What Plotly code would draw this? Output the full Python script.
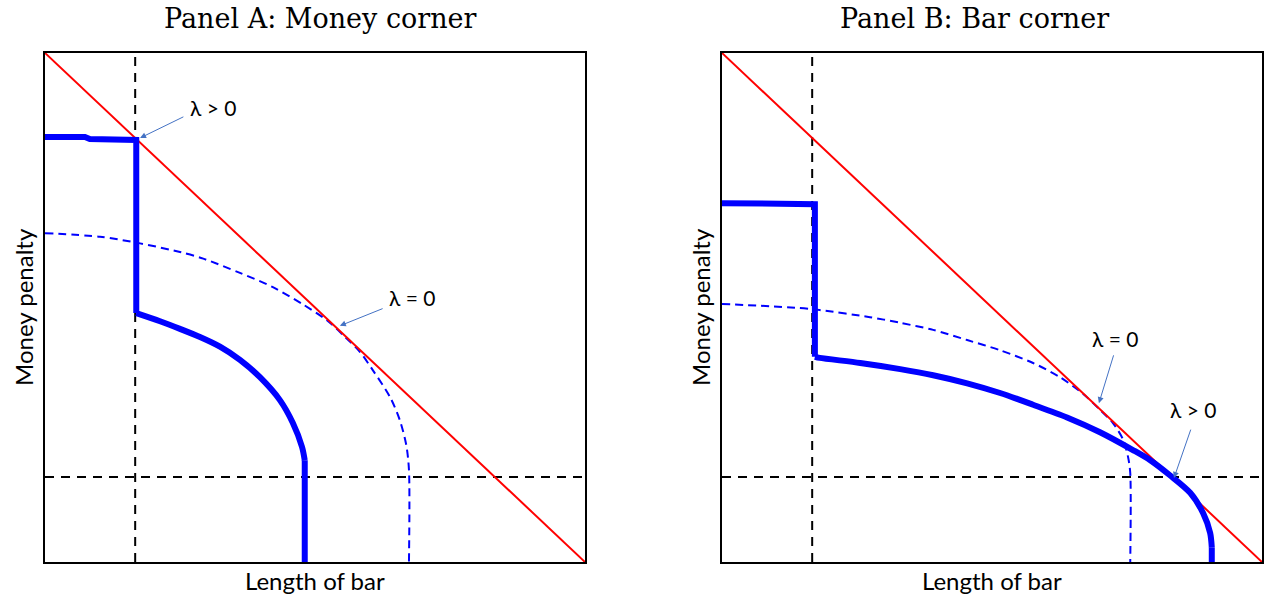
import plotly.graph_objects as go

W, H = 1271, 597

# ---------- data (axes 0..100) ----------
budget_x = [0, 100]
budget_y = [100, 0]
ref_level = 16.7  # dashed reference lines (x and y)

# Panel A: Money corner  (first 4 points: flat part + kink; rest: drop and curve)
a_solid_x = [0, 7.4, 8.3, 16.9, 16.9, 21.3, 25.0, 28.7, 32.4, 36.1, 39.8, 43.5, 45.9, 47.6, 48.1, 48.1]
a_solid_y = [83.5, 83.5, 83.1, 82.9, 48.9, 47.3, 45.8, 44.2, 42.3, 39.7, 36.3, 31.8, 27.3, 22.6, 20.0, 0]
a_dash_x = [0, 10.2, 17.6, 25.0, 29.3, 36.1, 42.2, 47.8, 52.2, 55.2, 58.3, 60.7, 63.9, 65.7, 66.9, 67.4, 67.4]
a_dash_y = [64.6, 63.9, 62.6, 60.9, 59.6, 56.8, 54.0, 50.6, 47.5, 44.6, 41.3, 37.7, 32.4, 27.9, 23.0, 18.1, 0]

# Panel B: Bar corner
b_solid_x = [0, 10.7, 11.7, 17.2, 17.2, 18.1, 25.6, 33.0, 39.1, 45.4, 51.5, 57.6, 63.9, 70.0, 76.1, 79.3,
             83.0, 86.7, 89.1, 90.4, 90.7, 90.7]
b_solid_y = [70.5, 70.5, 70.3, 70.3, 40.3, 40.1, 39.1, 37.9, 36.7, 35.1, 33.2, 30.9, 28.4, 25.5, 22.0, 20.0,
             17.0, 13.6, 9.6, 5.7, 2.9, 0]
b_dash_x = [0, 14.4, 18.1, 27.4, 33.0, 39.1, 45.4, 51.5, 57.6, 62.6, 66.9, 70.0, 72.4, 74.3, 75.2, 75.6, 75.6]
b_dash_y = [50.7, 49.9, 49.5, 48.1, 47.0, 45.6, 43.6, 41.6, 39.1, 36.3, 33.0, 29.9, 27.3, 24.0, 20.6, 17.5, 0]

titles = ["Panel A: Money corner", "Panel B: Bar corner"]
x_title = "Length of bar"
y_title = "Money penalty"

# annotation labels: (text, text_x, text_y, tail_x, tail_y, head_x, head_y)
a_labels = [("λ > 0", 31.1, 89.2, 25.9, 87.6, 17.6, 83.3),
            ("λ = 0", 68.0, 51.9, 62.8, 49.9, 54.6, 46.4)]
b_labels = [("λ = 0", 72.8, 44.0, 72.6, 40.9, 69.8, 31.2),
            ("λ > 0", 87.2, 29.9, 86.9, 26.3, 83.7, 16.5)]

# ---------- figure ----------
fig = go.Figure()

panels = [
    ("x", "y", a_solid_x, a_solid_y, a_dash_x, a_dash_y, a_labels),
    ("x2", "y2", b_solid_x, b_solid_y, b_dash_x, b_dash_y, b_labels),
]

BLUE = "#0000FF"
for xa, ya, sx, sy, dx, dy, labels in panels:
    # black dashed reference lines
    for lx, ly in (([ref_level, ref_level], [0, 100]), ([0, 100], [ref_level, ref_level])):
        fig.add_trace(go.Scatter(x=lx, y=ly, mode="lines", xaxis=xa, yaxis=ya,
                                 line=dict(color="black", width=2, dash="9px,7px"), showlegend=False,
                                 hoverinfo="skip"))
    # blue dashed curve
    fig.add_trace(go.Scatter(x=dx, y=dy, mode="lines", xaxis=xa, yaxis=ya,
                             line=dict(color=BLUE, width=2, dash="8px,5px", shape="spline",
                                       smoothing=0.8),
                             showlegend=False))
    # red budget line
    fig.add_trace(go.Scatter(x=budget_x, y=budget_y, mode="lines", xaxis=xa, yaxis=ya,
                             line=dict(color="#FF0000", width=2), showlegend=False))
    # thick blue curve: straight part (flat + vertical drop) and smooth curved part
    fig.add_trace(go.Scatter(x=sx[:5], y=sy[:5], mode="lines", xaxis=xa, yaxis=ya,
                             line=dict(color=BLUE, width=6), showlegend=False))
    fig.add_trace(go.Scatter(x=sx[4:-1], y=sy[4:-1], mode="lines", xaxis=xa, yaxis=ya,
                             line=dict(color=BLUE, width=6, shape="spline", smoothing=0.8),
                             showlegend=False))
    fig.add_trace(go.Scatter(x=sx[-2:], y=sy[-2:], mode="lines", xaxis=xa, yaxis=ya,
                             line=dict(color=BLUE, width=6), showlegend=False))
    for text, tx, ty, ax_, ay_, hx, hy in labels:
        fig.add_annotation(x=tx, y=ty, xref=xa, yref=ya, text=text, showarrow=False,
                           font=dict(family="Lato, Open Sans, sans-serif", size=21, color="black"))
        fig.add_annotation(x=hx, y=hy, ax=ax_, ay=ay_, xref=xa, yref=ya, axref=xa, ayref=ya,
                           text="", showarrow=True, arrowhead=2, arrowsize=1.2, arrowwidth=1,
                           arrowcolor="#4472C4")

axis_common = dict(range=[0, 100], showgrid=False, zeroline=False, showticklabels=False, ticks="",
                   showline=True, mirror=True, linecolor="black", linewidth=1.5, fixedrange=True)

y_dom = [(H - 562) / H, (H - 53) / H]
fig.update_layout(
    width=W, height=H,
    margin=dict(l=0, r=0, t=0, b=0),
    paper_bgcolor="white", plot_bgcolor="white",
    xaxis=dict(domain=[45 / W, 585 / W], anchor="y", **axis_common),
    yaxis=dict(domain=y_dom, anchor="x", **axis_common),
    xaxis2=dict(domain=[722 / W, 1262 / W], anchor="y2", **axis_common),
    yaxis2=dict(domain=y_dom, anchor="x2", **axis_common),
)

# titles and axis titles
centers = [320, 974]
xt_centers = [(45 + 585) / 2, (722 + 1262) / 2]
lefts = [23, 700]
for i in range(2):
    fig.add_annotation(x=centers[i] / W, y=1 - 19 / H, xref="paper", yref="paper", text=titles[i],
                       showarrow=False, xanchor="center", yanchor="middle",
                       font=dict(family="DejaVu Serif, serif", size=27, color="black"))
    fig.add_annotation(x=xt_centers[i] / W, y=1 - 580 / H, xref="paper", yref="paper", text=x_title,
                       showarrow=False, xanchor="center", yanchor="middle",
                       font=dict(family="Lato, Open Sans, sans-serif", size=24, color="black"))
    fig.add_annotation(x=lefts[i] / W, y=1 - 307 / H, xref="paper", yref="paper", text=y_title,
                       showarrow=False, xanchor="center", yanchor="middle", textangle=-90,
                       font=dict(family="Lato, Open Sans, sans-serif", size=24, color="black"))

fig.write_html("out.html")
